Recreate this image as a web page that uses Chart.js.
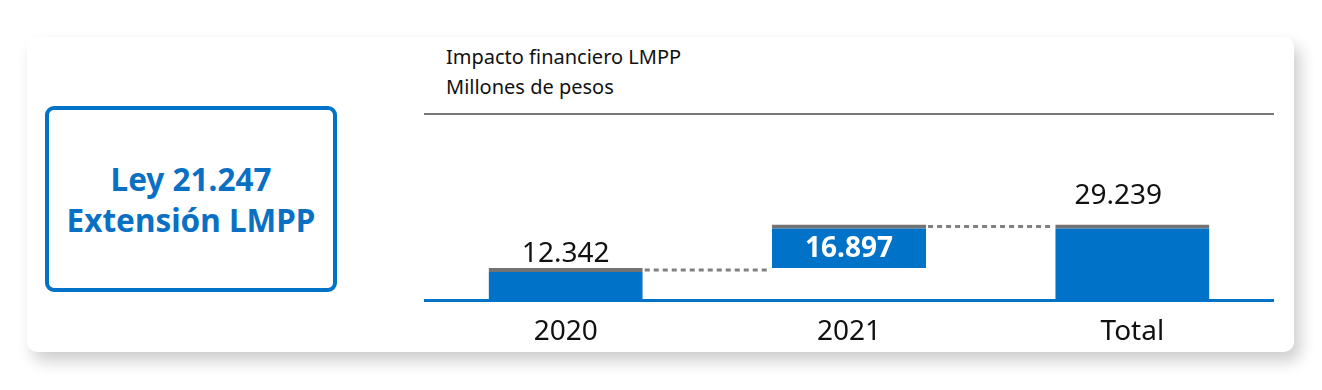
<!DOCTYPE html>
<html>
<head>
<meta charset="utf-8">
<script src="https://cdn.jsdelivr.net/npm/chart.js@4.4.1/dist/chart.umd.min.js"></script>
<style>
  html, body { margin: 0; padding: 0; background: #ffffff; width: 1322px; height: 390px; overflow: hidden; font-family: "Noto Sans", sans-serif; }
  .card { position: absolute; left: 27px; top: 37px; width: 1267px; height: 315px; background: #fff; border-radius: 10px; box-shadow: 6px 9px 16px rgba(0,0,0,0.20); }
  .box { position: absolute; left: 45px; top: 106px; width: 284px; height: 178px; border: 4px solid #0073C8; border-radius: 9px; display: flex; align-items: center; justify-content: center; text-align: center; color: #0A70C4; font-weight: 700; font-size: 31.5px; line-height: 41px; }
  .title { position: absolute; left: 446px; top: 42px; font-size: 20px; line-height: 30px; color: #111; }
  .rule { position: absolute; left: 424px; top: 113px; width: 850px; height: 2px; background: #777; }
  .chartwrap { position: absolute; left: 424px; top: 114px; width: 850px; height: 246px; }
</style>
</head>
<body>
<div class="card"></div>
<div class="box"><div>Ley 21.247<br>Extensión LMPP</div></div>
<div class="title">Impacto financiero LMPP<br>Millones de pesos</div>
<div class="rule"></div>
<div class="chartwrap"><canvas id="c" width="850" height="246"></canvas></div>
<script>
// ---- data ----
const categories = ["2020", "2021", "Total"];
const increments = [12342, 16897, null];      // null = total bar
const labelPlacement = ["above", "inside", "above"];
const labelGap = [6, 0, 20];
const labelShiftX = [0, 0, -14];

// build floating ranges
let running = 0;
const ranges = increments.map(v => {
  if (v === null) return [0, running];
  const r = [running, running + v];
  running += v;
  return r;
});
const shownValues = ranges.map(r => r[1] - r[0]);
function fmt(n) { return String(n).replace(/\B(?=(\d{3})+(?!\d))/g, "."); }

const BLUE = "#0073C8";
const GREY = "#737373";

const connectorPlugin = {
  id: "connectors",
  afterDatasetsDraw(chart) {
    const meta = chart.getDatasetMeta(0);
    const y = chart.scales.y;
    const ctx = chart.ctx;
    ctx.save();
    ctx.strokeStyle = "#808080";
    ctx.lineWidth = 3;
    ctx.setLineDash([5, 4]);
    for (let i = 0; i < meta.data.length - 1; i++) {
      const a = meta.data[i], b = meta.data[i + 1];
      const yy = y.getPixelForValue(ranges[i][1]) + 2;
      ctx.beginPath();
      ctx.moveTo(a.x + a.width / 2 + 2, yy);
      ctx.lineTo(b.x - b.width / 2 - 2, yy);
      ctx.stroke();
    }
    ctx.restore();
  }
};

const labelPlugin = {
  id: "valueLabels",
  afterDatasetsDraw(chart) {
    const meta = chart.getDatasetMeta(0);
    const y = chart.scales.y;
    const ctx = chart.ctx;
    ctx.save();
    ctx.textAlign = "center";
    meta.data.forEach((bar, i) => {
      const top = y.getPixelForValue(ranges[i][1]);
      const bottom = y.getPixelForValue(ranges[i][0]);
      const txt = fmt(shownValues[i]);
      if (labelPlacement[i] === "inside") {
        ctx.font = "700 28px 'Noto Sans'";
        ctx.fillStyle = "#ffffff";
        ctx.textBaseline = "middle";
        ctx.fillText(txt, bar.x + labelShiftX[i], (top + 4 + bottom) / 2 + 1);
      } else {
        ctx.font = "400 28px 'Noto Sans'";
        ctx.fillStyle = "#111111";
        ctx.textBaseline = "alphabetic";
        ctx.fillText(txt, bar.x + labelShiftX[i], top - labelGap[i]);
      }
    });
    ctx.restore();
  }
};

new Chart(document.getElementById("c"), {
  type: "bar",
  data: {
    labels: categories,
    datasets: [{
      data: ranges,
      backgroundColor: BLUE,
      borderColor: GREY,
      borderWidth: { top: 4, right: 0, bottom: 0, left: 0 },
      borderSkipped: false,
      categoryPercentage: 1,
      barPercentage: 0.544
    }]
  },
  options: {
    responsive: false,
    animation: false,
    events: [],
    layout: { padding: 0 },
    plugins: { legend: { display: false }, tooltip: { enabled: false } },
    scales: {
      x: {
        grid: { display: false, drawTicks: false },
        border: { display: true, color: BLUE, width: 3 },
        ticks: { color: "#111", font: { family: "Noto Sans", size: 28 }, padding: 15 },
        afterFit(scale) { scale.height = 60; }
      },
      y: {
        display: false,
        min: 0,
        max: 72000
      }
    }
  },
  plugins: [connectorPlugin, labelPlugin]
});
</script>
</body>
</html>
